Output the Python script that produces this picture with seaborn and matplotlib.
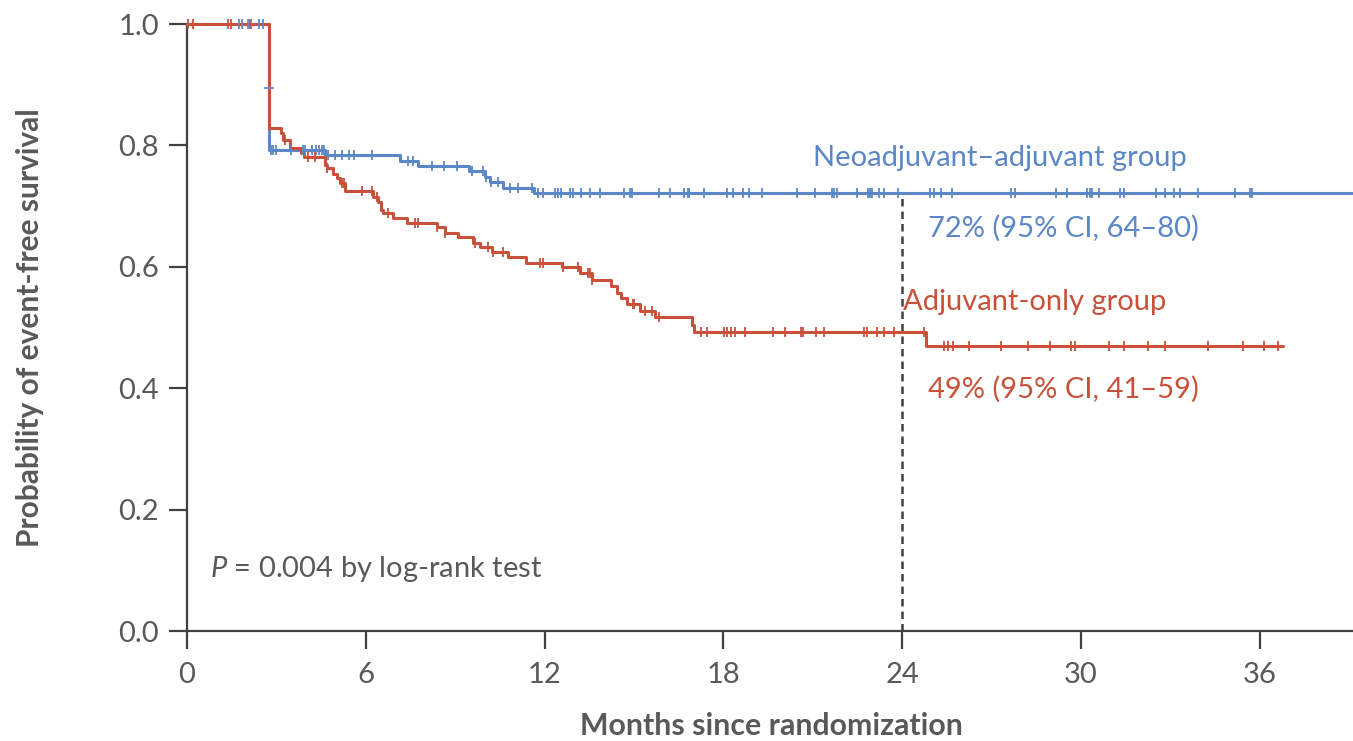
import numpy as np
import pandas as pd
import matplotlib
matplotlib.use("Agg")
import matplotlib.pyplot as plt
import seaborn as sns

# ---------------- data ----------------
# Neoadjuvant-adjuvant group: step times (months) and survival after each step
neo_times = [0.0, 2.75, 4.63, 7.15, 7.76, 9.47, 10.00, 10.17, 10.61, 11.65, 39.1]
neo_surv = [1.000, 0.792, 0.784, 0.774, 0.766, 0.758, 0.748, 0.740, 0.730, 0.721, 0.721]
neo_censor = [1.75, 1.85, 2.05, 2.15, 2.42, 2.55, 2.82, 2.89, 2.99, 3.49, 3.90, 3.96,
              4.20, 4.33, 4.43, 4.53, 4.60, 4.73, 4.97, 5.20, 5.44, 5.61, 6.21, 7.42,
              7.59, 8.23, 8.63, 9.07, 9.57, 9.94, 10.04, 10.21, 10.44, 10.85, 11.12,
              11.58, 11.79, 11.95, 12.36, 12.46, 12.56, 12.86, 12.96, 13.23, 13.53,
              13.87, 14.67, 14.88, 14.94, 15.85, 16.22, 16.69, 16.82, 16.86, 17.36,
              18.13, 18.33, 18.67, 18.87, 19.31, 20.48, 21.09, 21.66, 21.73, 21.83,
              22.50, 22.87, 22.93, 23.00, 23.24, 23.40, 23.87, 24.95, 25.08, 25.32,
              25.69, 27.67, 27.80, 29.15, 29.55, 30.22, 30.29, 30.36, 30.62, 31.30,
              31.46, 32.51, 32.81, 33.11, 33.34, 33.92, 35.19, 35.66, 35.73]
neo_censor_mid_t = [2.75]
neo_censor_mid_s = [0.895]

# Adjuvant-only group
adj_times = [0.0, 2.75, 3.15, 3.22, 3.46, 3.83, 3.93, 4.63, 4.70, 4.90, 5.04, 5.14,
             5.31, 6.24, 6.41, 6.51, 6.58, 6.92, 7.39, 8.39, 8.66, 9.10, 9.60, 9.84,
             10.24, 10.78, 11.38, 12.60, 13.20, 13.60, 14.24, 14.44, 14.57, 14.77,
             15.21, 15.72, 16.96, 17.00, 24.80, 36.77]
adj_surv = [1.000, 0.829, 0.820, 0.809, 0.796, 0.787, 0.781, 0.768, 0.763, 0.753,
            0.746, 0.738, 0.725, 0.715, 0.707, 0.694, 0.688, 0.680, 0.672, 0.665,
            0.656, 0.649, 0.640, 0.632, 0.624, 0.616, 0.606, 0.600, 0.590, 0.578,
            0.568, 0.557, 0.549, 0.539, 0.527, 0.517, 0.504, 0.493, 0.470, 0.470]
adj_censor = [0.03, 0.20, 1.38, 1.48, 2.12, 3.29, 4.06, 4.30, 4.70, 5.20, 5.27, 5.88,
              6.21, 6.38, 6.75, 7.66, 7.76, 8.39, 8.66, 9.67, 10.11, 10.28, 10.61,
              11.85, 11.95, 12.63, 13.13, 13.47, 13.53, 13.60, 14.98, 15.01, 15.38,
              15.61, 15.85, 17.26, 17.46, 18.03, 18.13, 18.27, 18.40, 18.74, 19.68,
              20.08, 20.62, 20.68, 21.12, 21.39, 22.73, 22.83, 23.17, 23.40, 23.74,
              24.75, 25.39, 25.55, 25.72, 26.23, 27.33, 28.24, 28.95, 29.68, 29.82,
              30.93, 31.46, 32.24, 32.84, 34.28, 35.43, 36.13, 36.60]

x_ticks = [0, 6, 12, 18, 24, 30, 36]
y_ticks = [0.0, 0.2, 0.4, 0.6, 0.8, 1.0]
landmark_month = 24
landmark_surv = 0.721

# ---------------- style ----------------
BLUE = "#5b87c6"
RED = "#c9513a"
AX = "#404040"
TXT = "#595959"

sns.set_theme(style="ticks")
plt.rcParams["font.family"] = ["Lato", "DejaVu Sans"]
plt.rcParams["mathtext.fontset"] = "custom"
plt.rcParams["mathtext.it"] = "Lato:italic"
plt.rcParams["mathtext.rm"] = "Lato"

fig = plt.figure(figsize=(13.53, 7.41), dpi=100)
ax = fig.add_axes([187 / 1353, 1 - 631 / 741, 1165 / 1353, 607 / 741])


def step_lookup(times, surv, t):
    idx = np.searchsorted(np.asarray(times), np.asarray(t), side="right") - 1
    return np.asarray(surv)[idx]


neo_df = pd.DataFrame({"t": neo_times, "s": neo_surv})
adj_df = pd.DataFrame({"t": adj_times, "s": adj_surv})

sns.lineplot(data=neo_df, x="t", y="s", drawstyle="steps-post", estimator=None,
             sort=False, color=BLUE, lw=2.2, ax=ax, clip_on=False, zorder=3)
sns.lineplot(data=adj_df, x="t", y="s", drawstyle="steps-post", estimator=None,
             sort=False, color=RED, lw=2.2, ax=ax, clip_on=False, zorder=4)

ax.plot(neo_censor, step_lookup(neo_times, neo_surv, neo_censor), ls="none",
        marker="|", ms=7.5, mew=1.3, color=BLUE, zorder=5, clip_on=False)
ax.plot(neo_censor_mid_t, neo_censor_mid_s, ls="none", marker="_", ms=7.5, mew=1.3,
        color=BLUE, zorder=5)
ax.plot(adj_censor, step_lookup(adj_times, adj_surv, adj_censor), ls="none",
        marker="|", ms=7.5, mew=1.3, color=RED, zorder=6, clip_on=False)

# landmark dashed line
ax.plot([landmark_month, landmark_month], [0, landmark_surv], ls=(0, (3, 2)),
        color=AX, lw=1.8, zorder=2)

ax.set_xlim(0, 39.1)
ax.set_ylim(0, 1.0)
ax.set_xticks(x_ticks)
ax.set_xticklabels([str(v) for v in x_ticks])
ax.set_yticks(y_ticks)
ax.set_yticklabels([f"{v:.1f}" for v in y_ticks])

for side in ["top", "right"]:
    ax.spines[side].set_visible(False)
for side in ["left", "bottom"]:
    ax.spines[side].set_color(AX)
    ax.spines[side].set_linewidth(1.6)
ax.tick_params(direction="out", length=13, width=1.6, color=AX, labelcolor=TXT,
               labelsize=21)
ax.tick_params(axis="y", pad=7)
ax.tick_params(axis="x", pad=9)

ax.set_xlabel("Months since randomization", fontsize=21.8, fontweight="bold",
              color=TXT, va="center")
ax.xaxis.set_label_coords(0.502, -0.1565)
ax.set_ylabel("Probability of event-free survival", fontsize=21.5, fontweight="bold",
              color=TXT, va="center")
ax.yaxis.set_label_coords(-0.1345, 0.5)

# annotations
ax.text(21.02, 0.766, "Neoadjuvant\u2013adjuvant group", color=BLUE, fontsize=21,
        ha="left", va="baseline")
ax.text(24.88, 0.649, "72% (95% CI, 64\u201380)", color=BLUE, fontsize=21,
        ha="left", va="baseline")
ax.text(24.04, 0.529, "Adjuvant-only group", color=RED, fontsize=21,
        ha="left", va="baseline")
ax.text(24.88, 0.385, "49% (95% CI, 41\u201359)", color=RED, fontsize=21,
        ha="left", va="baseline")
ax.text(0.77, 0.089, "$P$ = 0.004 by log-rank test", color=TXT, fontsize=21,
        ha="left", va="baseline")

fig.savefig("out.png", dpi=100)
